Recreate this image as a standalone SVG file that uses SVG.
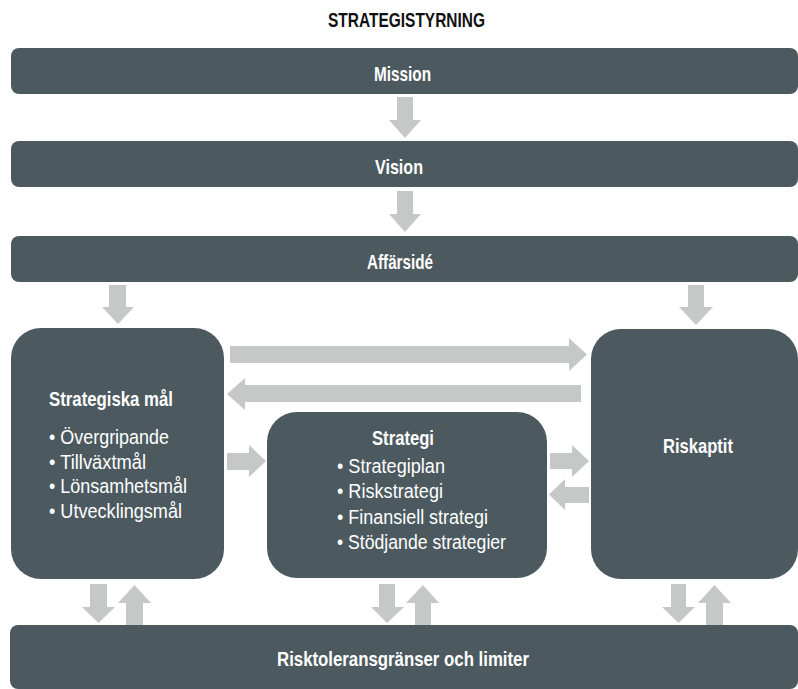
<svg xmlns="http://www.w3.org/2000/svg" width="798" height="689" viewBox="0 0 798 689">
<style>
.box{fill:#4c5a60}
.arr{fill:#c6c8c7}
.t{font-family:"Liberation Sans",Arial,sans-serif;font-weight:bold;font-size:21px;fill:#ffffff}
.b{font-family:"Liberation Sans",Arial,sans-serif;font-size:20.5px;fill:#ffffff}
.title{font-family:"Liberation Sans",Arial,sans-serif;font-weight:bold;font-size:21px;fill:#111111}
</style>
<rect width="798" height="689" fill="#ffffff"/>
<text class="title" x="328" y="27" textLength="157" lengthAdjust="spacingAndGlyphs">STRATEGISTYRNING</text>
<g id="connectors">
<polygon class="arr" points="397,97 413,97 413,120 421,120 405,138 389,120 397,120"/>
<polygon class="arr" points="397,191 413,191 413,214 421,214 405,232 389,214 397,214"/>
<polygon class="arr" points="109,285 126,285 126,307 134,307 118,324 102,307 109,307"/>
<polygon class="arr" points="688,285 704,285 704,307 713,307 696,325 679,307 688,307"/>
<polygon class="arr" points="230,346 569,346 569,338 587,354.5 569,371 569,363 230,363"/>
<polygon class="arr" points="581,385 245,385 245,378 227,394 245,410 245,402 581,402"/>
<polygon class="arr" points="227,453 249,453 249,445 266,461 249,477 249,470 227,470"/>
<polygon class="arr" points="550,453 572,453 572,445 589,461 572,477 572,469 550,469"/>
<polygon class="arr" points="589,487 565,487 565,479 549,494.5 565,510 565,503 589,503"/>
<polygon class="arr" points="90,584 107,584 107,607 115,607 98.5,623 82,607 90,607"/>
<polygon class="arr" points="126,625 143,625 143,603 151,603 134.5,585 118,603 126,603"/>
<polygon class="arr" points="379,584 395,584 395,607 404,607 387,623 371,607 379,607"/>
<polygon class="arr" points="415,625 431,625 431,603 439,603 423,585 406,603 415,603"/>
<polygon class="arr" points="671,584 686,584 686,607 695,607 678.5,623 662,607 671,607"/>
<polygon class="arr" points="706,625 723,625 723,603 731,603 714.5,585 698,603 706,603"/>
</g>
<g id="mission">
<rect class="box" x="11" y="48" width="787" height="46" rx="8"/>
<text class="t" x="374" y="81" textLength="57" lengthAdjust="spacingAndGlyphs">Mission</text>
</g>
<g id="vision">
<rect class="box" x="11" y="141" width="787" height="46" rx="8"/>
<text class="t" x="375" y="174" textLength="48" lengthAdjust="spacingAndGlyphs">Vision</text>
</g>
<g id="affarside">
<rect class="box" x="11" y="236" width="787" height="46" rx="8"/>
<text class="t" x="367" y="269" textLength="66" lengthAdjust="spacingAndGlyphs">Affärsidé</text>
</g>
<g id="strategiska-mal">
<rect class="box" x="11" y="328" width="213" height="251" rx="30"/>
<text class="t" x="49" y="406" textLength="124" lengthAdjust="spacingAndGlyphs">Strategiska mål</text>
<text class="b" x="49" y="444" textLength="120" lengthAdjust="spacingAndGlyphs">• Övergripande</text>
<text class="b" x="49" y="468.5" textLength="97" lengthAdjust="spacingAndGlyphs">• Tillväxtmål</text>
<text class="b" x="49" y="493" textLength="138" lengthAdjust="spacingAndGlyphs">• Lönsamhetsmål</text>
<text class="b" x="49" y="517.5" textLength="133" lengthAdjust="spacingAndGlyphs">• Utvecklingsmål</text>
</g>
<g id="strategi">
<rect class="box" x="267" y="412" width="280" height="166" rx="30"/>
<text class="t" x="372" y="445" textLength="62" lengthAdjust="spacingAndGlyphs">Strategi</text>
<text class="b" x="337" y="472.5" textLength="108" lengthAdjust="spacingAndGlyphs">• Strategiplan</text>
<text class="b" x="337" y="498" textLength="106" lengthAdjust="spacingAndGlyphs">• Riskstrategi</text>
<text class="b" x="337" y="523.5" textLength="151" lengthAdjust="spacingAndGlyphs">• Finansiell strategi</text>
<text class="b" x="337" y="549" textLength="169" lengthAdjust="spacingAndGlyphs">• Stödjande strategier</text>
</g>
<g id="riskaptit">
<rect class="box" x="591" y="329" width="207" height="250" rx="30"/>
<text class="t" x="663" y="453" textLength="70" lengthAdjust="spacingAndGlyphs">Riskaptit</text>
</g>
<g id="risktolerans">
<rect class="box" x="10" y="625" width="788" height="64" rx="8"/>
<text class="t" x="277" y="666" textLength="252" lengthAdjust="spacingAndGlyphs">Risktoleransgränser och limiter</text>
</g>
</svg>
